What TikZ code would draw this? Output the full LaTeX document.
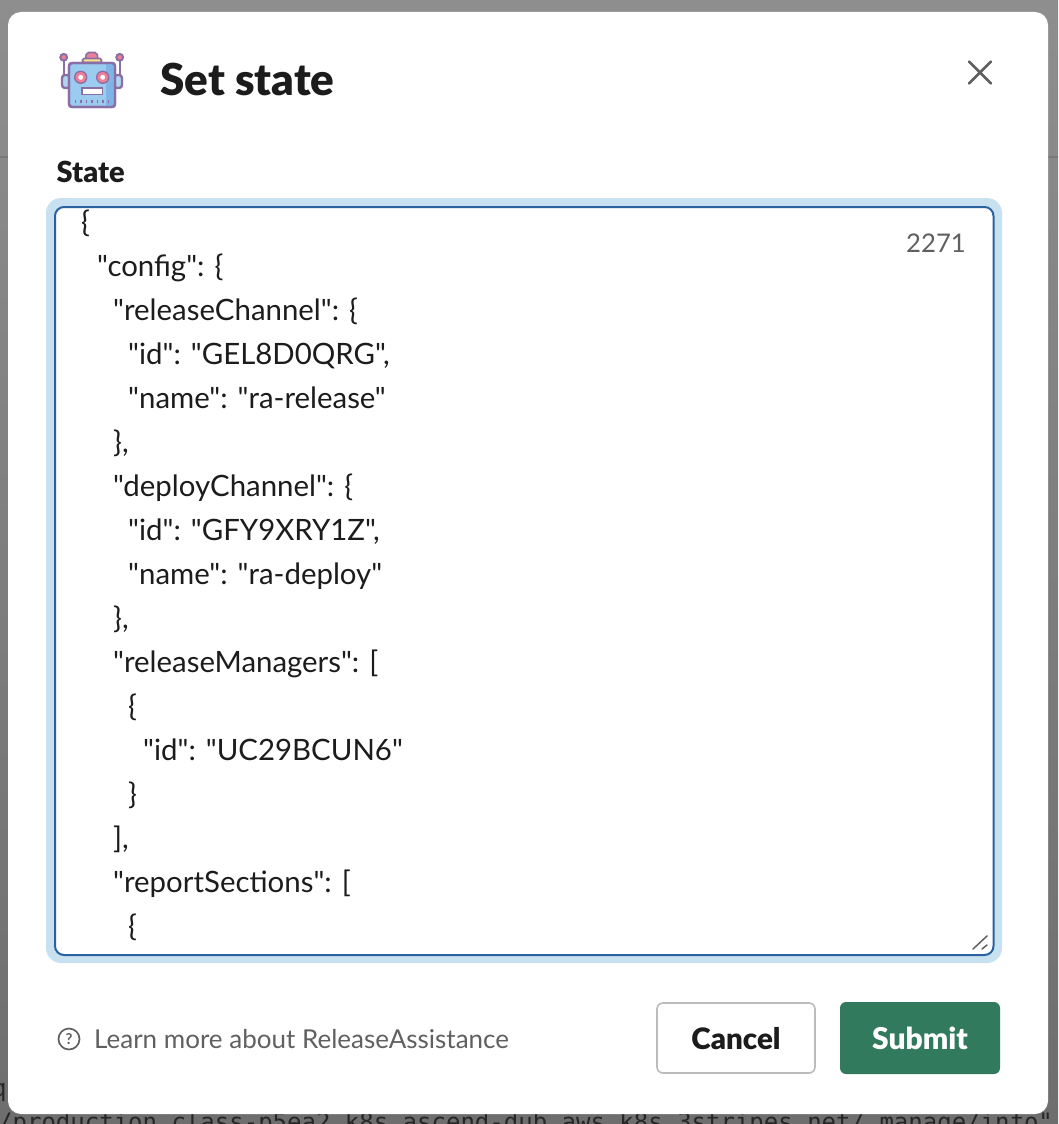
\documentclass[tikz,border=0pt]{standalone}
\usepackage{fontspec}
\setmainfont{Lato}
\newfontfamily\codefont{Lato}
\newfontfamily\heavy{Lato Black}
\setmonofont{DejaVu Sans Mono}
\definecolor{bgtop}{HTML}{8E8E8E}
\definecolor{bgbot}{HTML}{6E6E6E}
\definecolor{ink}{HTML}{1D1C1D}
\definecolor{soft}{HTML}{616061}
\definecolor{halo}{HTML}{C8E1F0}
\definecolor{edge}{HTML}{2A62A0}
\definecolor{go}{HTML}{327A5E}
\definecolor{rim}{HTML}{BBBBBB}
\definecolor{rp}{HTML}{8A6FA6}
\definecolor{rb}{HTML}{9CCBF0}
\definecolor{rd}{HTML}{7FB4E6}
\definecolor{rr}{HTML}{EE7F96}
\definecolor{ry}{HTML}{F9E28A}
\tikzset{
  code/.style={anchor=base west,inner sep=0pt,font=\codefont\fontsize{29.4}{29}\selectfont,text=ink},
  rbody/.style={draw=rp,line width=2.4pt,line join=round}
}
\begin{document}
\begin{tikzpicture}[x=1pt,y=-1pt]
\useasboundingbox (0,0) rectangle (1058,1124);
\shade[top color=bgtop,bottom color=bgbot] (0,0) rectangle (1058,1124);
\fill[bgtop!85!black] (0,156) rectangle (1058,158);
\node[anchor=base west,inner sep=0pt,font=\ttfamily\fontsize{24}{24}\selectfont,text=black!85] (bgtext) at (-2,1130) {/production.class-p5ea2.k8s.ascend-dub.aws.k8s.3stripes.net/ manage/info"};
\node[anchor=base west,inner sep=0pt,font=\ttfamily\fontsize{24}{24}\selectfont,text=black!85] (bgq) at (-8,1096) {q};
\fill[white,rounded corners=13pt] (8,12) rectangle (1048,1114);
% robot
\begin{scope}
\draw[rp,line width=1.6pt] (63.7,60) -- (63.7,76) (119.7,60) -- (119.7,76);
\fill[rr,draw=rp,line width=2pt] (63.7,57.3) circle (3.4);
\fill[rr,draw=rp,line width=2pt] (119.7,57.3) circle (3.4);
\fill[rb!80!white,rbody,rounded corners=3pt] (62,75) rectangle (70,88);
\fill[rb!80!white,rbody,rounded corners=3pt] (114,75) rectangle (122,88);
\fill[rr,draw=rp,line width=1.6pt,rounded corners=2pt] (85.5,59) -- (86.5,52.5) -- (97,52.5) -- (98,59) -- cycle;
\fill[ry,draw=rp,line width=1.6pt,rounded corners=1.5pt] (82.5,58.5) rectangle (101.5,62.5);
\fill[rb,rbody,rounded corners=3pt] (69,63) rectangle (115,107);
\fill[rd] (106,64.5) rectangle (113.5,105.5);
\draw[rbody,rounded corners=3pt] (69,63) rectangle (115,107);
\fill[rp] (80.7,77.3) circle (6.7);
\fill[rp] (102.7,77.3) circle (6.7);
\fill[white,draw=rr,line width=2.6pt] (80.7,77.3) circle (4);
\fill[white,draw=rr,line width=2.6pt] (102.7,77.3) circle (4);
\fill[white,draw=rp,line width=1.8pt] (82,88) rectangle (102.5,94.5);
\foreach \xx in {75.5,81,86.5,92,97.5,103,108.5}
  \draw[rp,line width=1.5pt] (\xx,99.5) -- (\xx,103.2);
\end{scope}
\node[anchor=base west,inner sep=0pt,font=\heavy\fontsize{44}{40}\selectfont,text=ink] (title) at (160,95.5) {Set state};
\draw[soft,line width=2.6pt,line cap=round] (969,61.5) -- (991,83.5) (991,61.5) -- (969,83.5);
\node[anchor=base west,inner sep=0pt,font=\heavy\fontsize{29}{29}\selectfont,text=ink] (statelabel) at (56.5,182) {State};
% text area
\fill[halo,rounded corners=15pt] (46,198) rectangle (1002,963);
\fill[white,draw=edge,line width=2pt,rounded corners=9pt] (55,207) rectangle (993.5,955);
\begin{scope}
\clip[rounded corners=8pt] (56,208) rectangle (992.5,954);
\node[code] (l0) at (81,232) {\{};
\node[code] (l1) at (97,276) {"config": \{};
\node[code] (l2) at (113,320) {"releaseChannel": \{};
\node[code] (l3) at (128,364) {"id": "GEL8D0QRG",};
\node[code] (l4) at (128,408) {"name": "ra-release"};
\node[code] (l5) at (113,452) {\},};
\node[code] (l6) at (113,496) {"deployChannel": \{};
\node[code] (l7) at (128,540) {"id": "GFY9XRY1Z",};
\node[code] (l8) at (128,584) {"name": "ra-deploy"};
\node[code] (l9) at (113,628) {\},};
\node[code] (l10) at (113,672) {"releaseManagers": [};
\node[code] (l11) at (128,716) {\{};
\node[code] (l12) at (143,760) {"id": "UC29BCUN6"};
\node[code] (l13) at (128,804) {\}};
\node[code] (l14) at (113,848) {],};
\node[code] (l15) at (113,892) {"reportSections": [};
\node[code] (l16) at (128,936) {\{};
\end{scope}
\node[anchor=base east,inner sep=0pt,font=\fontsize{25.7}{25}\selectfont,text=soft] (count) at (966,252) {2271};
\draw[soft,line width=1.5pt,line cap=round] (973,949) -- (987,936) (982,949) -- (987,945);
% footer
\node[circle,draw=soft,line width=1.7pt,minimum size=21pt,inner sep=0pt,font=\fontsize{15}{15}\selectfont\bfseries,text=soft] (help) at (69,1039) {?};
\node[anchor=base west,inner sep=0pt,font=\fontsize{26}{25}\selectfont,text=soft] (learn) at (94,1048) {Learn more about ReleaseAssistance};
\node[draw=rim,line width=1.6pt,fill=white,rounded corners=6pt,minimum width=158pt,minimum height=70pt,inner sep=0pt,font=\heavy\fontsize{29.5}{29}\selectfont,text=ink,text height=23pt,text depth=0pt] (cancel) at (736,1038) {Cancel};
\node[fill=go,rounded corners=6pt,minimum width=160pt,minimum height=72pt,inner sep=0pt,font=\heavy\fontsize{30}{29}\selectfont,text=white,text height=23pt,text depth=0pt] (submit) at (920,1038) {Submit};
\end{tikzpicture}
\end{document}
